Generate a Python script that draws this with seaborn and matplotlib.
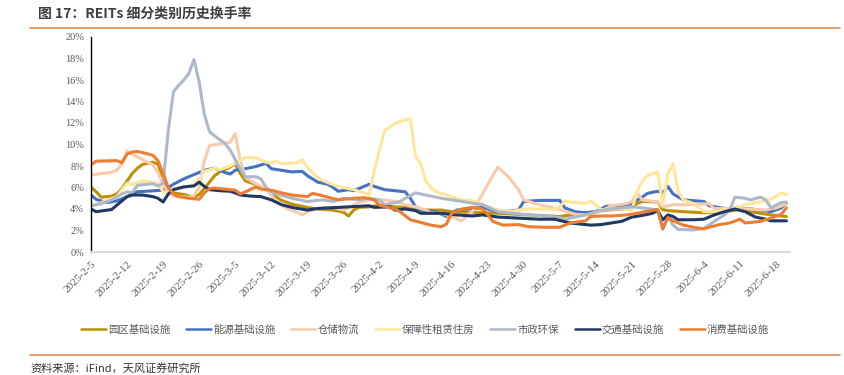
import pandas as pd
import matplotlib.pyplot as plt
import seaborn as sns
from matplotlib.lines import Line2D

# REITs 细分类别历史换手率 (%)
series_names = ['园区基础设施', '能源基础设施', '仓储物流', '保障性租赁住房', '市政环保', '交通基础设施', '消费基础设施']
colors = ['#BF9000', '#4472C4', '#F8CBAD', '#FFE699', '#ADB9CA', '#203864', '#ED7D31']

park_dates = ['2-5', '2-6', '2-7', '2-9', '2-10', '2-11', '2-12', '2-13', '2-14', '2-15', '2-17', '2-18', '2-19', '2-20', '2-21',
              '2-23', '2-25', '2-26', '2-27', '2-28', '3-1', '3-2', '3-4', '3-5', '3-6', '3-7', '3-9', '3-11', '3-12', '3-14',
              '3-16', '3-19', '3-21', '3-24', '3-26', '3-27', '3-28', '3-29', '3-31', '4-2', '4-5', '4-7', '4-9', '4-11', '4-14',
              '4-16', '4-20', '4-25', '5-1', '5-7', '5-13', '5-16', '5-20', '5-22', '5-23', '5-26', '5-27', '5-28', '5-31', '6-4',
              '6-8', '6-11', '6-13', '6-17', '6-20']
park_vals = [6.05, 5.6, 5.1, 5.2, 5.4, 5.9, 6.6, 7.3, 7.8, 8.15, 8.35, 8.2, 6.8, 5.6, 5.5,
             5.35, 5.1, 5.35, 5.9, 6.5, 7.1, 7.45, 7.9, 8.2, 7.3, 6.6, 6.3, 5.85, 5.4, 4.8,
             4.45, 4.15, 4.0, 3.9, 3.7, 3.35, 3.9, 4.15, 4.2, 4.35, 4.2, 4.15, 4.05, 3.9, 3.9,
             3.75, 3.7, 3.6, 3.45, 3.3, 3.7, 3.9, 4.0, 4.5, 4.7, 4.65, 3.95, 3.85, 3.75, 3.65,
             3.75, 3.95, 3.75, 3.45, 3.3]

energy_dates = ['2-5', '2-6', '2-8', '2-10', '2-12', '2-14', '2-19', '2-20', '2-21', '2-23', '2-25', '2-27', '3-1', '3-3', '3-4',
                '3-5', '3-7', '3-9', '3-11', '3-12', '3-14', '3-16', '3-18', '3-19', '3-21', '3-23', '3-24', '3-25', '3-27', '3-28',
                '3-30', '3-31', '4-1', '4-3', '4-5', '4-7', '4-8', '4-9', '4-10', '4-13', '4-15', '4-17', '4-20', '4-22', '4-25',
                '4-29', '4-30', '5-3', '5-7', '5-8', '5-10', '5-12', '5-14', '5-16', '5-20', '5-21', '5-23', '5-24', '5-26', '5-27',
                '5-28', '5-29', '5-31', '6-4', '6-5', '6-8', '6-12', '6-15', '6-17', '6-19', '6-20']
energy_vals = [5.3, 4.9, 4.6, 4.75, 5.15, 5.6, 5.75, 6.0, 6.3, 6.8, 7.2, 7.6, 7.8, 7.4, 7.25,
               7.6, 7.75, 7.95, 8.25, 7.75, 7.6, 7.45, 7.5, 7.1, 6.5, 6.3, 6.0, 5.65, 5.8, 5.7,
               6.1, 6.3, 6.1, 5.8, 5.7, 5.6, 5.0, 4.2, 3.9, 3.75, 3.3, 3.9, 4.05, 4.15, 3.75,
               3.9, 4.7, 4.8, 4.8, 4.1, 3.75, 3.65, 3.75, 4.25, 4.3, 4.55, 5.1, 5.45, 5.65, 5.5,
               6.1, 5.4, 4.85, 4.7, 4.3, 4.05, 4.05, 3.9, 3.75, 4.1, 4.5]

storage_dates = ['2-5', '2-7', '2-9', '2-10', '2-11', '2-12', '2-13', '2-15', '2-17', '2-18', '2-19', '2-20', '2-21', '2-24', '2-25',
                 '2-26', '2-27', '2-28', '3-2', '3-4', '3-5', '3-6', '3-7', '3-9', '3-10', '3-11', '3-12', '3-13', '3-15', '3-17',
                 '3-18', '3-19', '3-21', '3-24', '3-26', '3-29', '3-31', '4-3', '4-5', '4-7', '4-9', '4-11', '4-12', '4-14', '4-16',
                 '4-18', '4-19', '4-20', '4-22', '4-24', '4-25', '4-27', '4-29', '4-30', '5-3', '5-5', '5-8', '5-10', '5-13', '5-15',
                 '5-17', '5-20', '5-21', '5-22', '5-23', '5-26', '5-27', '5-29', '6-1', '6-5', '6-6', '6-11', '6-16', '6-18', '6-20']
storage_vals = [7.15, 7.3, 7.4, 7.6, 8.2, 9.4, 9.1, 8.6, 8.1, 7.4, 6.3, 5.5, 5.2, 5.1, 5.25,
                6.0, 8.5, 9.9, 10.05, 10.2, 11.0, 8.5, 6.9, 6.35, 6.1, 5.9, 5.3, 4.7, 4.05, 3.7,
                3.45, 3.75, 4.05, 4.15, 3.9, 4.6, 4.85, 4.85, 4.7, 4.4, 4.2, 3.9, 3.65, 3.6, 3.3,
                2.9, 3.4, 3.75, 5.4, 7.1, 7.9, 7.0, 5.8, 4.85, 4.4, 4.2, 3.8, 3.5, 3.45, 3.8,
                4.3, 4.5, 4.7, 5.5, 4.85, 4.65, 4.2, 4.4, 4.4, 4.5, 4.05, 4.05, 3.9, 4.1, 4.45]

housing_dates = ['2-5', '2-7', '2-10', '2-11', '2-12', '2-13', '2-15', '2-17', '2-18', '2-19', '2-20', '2-21', '2-23', '2-25', '2-26',
                 '2-27', '3-1', '3-2', '3-4', '3-6', '3-7', '3-9', '3-11', '3-12', '3-13', '3-14', '3-17', '3-18', '3-19', '3-21',
                 '3-23', '3-25', '3-28', '3-30', '3-31', '4-1', '4-2', '4-3', '4-5', '4-7', '4-8', '4-9', '4-10', '4-11', '4-12',
                 '4-13', '4-15', '4-17', '4-18', '4-21', '4-23', '4-25', '4-28', '4-30', '5-6', '5-7', '5-8', '5-10', '5-12', '5-13',
                 '5-14', '5-15', '5-19', '5-21', '5-22', '5-23', '5-24', '5-26', '5-27', '5-28', '5-29', '5-30', '5-31', '6-2', '6-4',
                 '6-6', '6-8', '6-10', '6-13', '6-15', '6-17', '6-19', '6-20']
housing_vals = [4.3, 4.6, 5.15, 5.8, 6.4, 6.3, 6.6, 6.5, 6.35, 5.6, 5.5, 5.9, 6.05, 6.25, 6.8,
                7.5, 7.8, 7.65, 8.0, 8.5, 8.8, 8.75, 8.35, 8.3, 8.45, 8.2, 8.3, 8.6, 7.9, 6.9,
                6.45, 6.1, 5.8, 5.5, 5.3, 7.6, 9.5, 11.3, 11.95, 12.3, 12.4, 8.9, 8.2, 6.6, 6.0,
                5.6, 5.3, 5.0, 4.85, 4.7, 4.2, 3.9, 3.8, 4.0, 4.0, 4.2, 4.75, 4.6, 4.5, 4.75,
                4.4, 3.95, 4.0, 3.9, 5.6, 6.6, 7.1, 7.45, 4.4, 7.3, 8.2, 5.6, 4.85, 4.5, 3.75,
                3.75, 3.9, 4.15, 4.5, 4.65, 4.9, 5.45, 5.35]

municipal_dates = ['2-5', '2-7', '2-9', '2-11', '2-12', '2-13', '2-14', '2-17', '2-18', '2-19', '2-20', '2-21', '2-22', '2-23', '2-24',
                   '2-25', '2-26', '2-27', '2-28', '3-1', '3-3', '3-4', '3-5', '3-6', '3-7', '3-9', '3-10', '3-11', '3-12', '3-13',
                   '3-16', '3-19', '3-22', '3-24', '3-26', '3-29', '3-31', '4-2', '4-3', '4-6', '4-7', '4-9', '4-11', '4-14', '4-16',
                   '4-18', '4-20', '4-22', '4-23', '4-25', '4-28', '5-1', '5-4', '5-7', '5-8', '5-9', '5-12', '5-14', '5-16', '5-18',
                   '5-21', '5-24', '5-26', '5-27', '5-28', '5-29', '5-30', '6-2', '6-4', '6-6', '6-8', '6-9', '6-10', '6-12', '6-13',
                   '6-15', '6-16', '6-17', '6-19', '6-20']
municipal_vals = [4.3, 4.5, 4.85, 5.4, 5.6, 5.5, 6.2, 6.35, 6.15, 6.4, 11.3, 14.9, 15.5, 16.0, 16.6,
                  17.9, 15.8, 12.8, 11.2, 10.8, 10.1, 9.5, 8.6, 7.7, 7.0, 7.0, 6.8, 6.0, 5.6, 5.4,
                  5.0, 4.7, 4.85, 4.7, 5.0, 4.85, 5.0, 4.85, 4.4, 4.7, 5.0, 5.5, 5.3, 5.0, 4.85,
                  4.7, 4.55, 4.4, 4.2, 3.75, 3.6, 3.45, 3.35, 3.2, 3.0, 3.15, 3.45, 3.75, 3.95, 4.05,
                  4.2, 4.05, 3.9, 2.1, 3.3, 2.5, 2.1, 2.05, 2.2, 2.85, 3.45, 3.9, 5.1, 5.0, 4.85,
                  5.1, 4.85, 4.1, 4.6, 4.65]

transport_dates = ['2-5', '2-6', '2-9', '2-10', '2-12', '2-13', '2-15', '2-17', '2-18', '2-19', '2-20', '2-21', '2-23', '2-25', '2-26',
                   '2-27', '2-28', '3-2', '3-4', '3-5', '3-6', '3-8', '3-10', '3-12', '3-14', '3-16', '3-19', '3-21', '3-25', '3-27',
                   '3-31', '4-1', '4-4', '4-5', '4-7', '4-9', '4-10', '4-14', '4-17', '4-20', '4-22', '4-25', '4-29', '5-3', '5-6',
                   '5-9', '5-13', '5-15', '5-17', '5-19', '5-21', '5-23', '5-25', '5-26', '5-27', '5-28', '5-29', '5-30', '6-2', '6-4',
                   '6-6', '6-8', '6-10', '6-12', '6-14', '6-16', '6-17', '6-20']
transport_vals = [4.0, 3.75, 3.95, 4.35, 5.15, 5.3, 5.3, 5.15, 5.0, 4.65, 5.4, 5.8, 6.05, 6.15, 6.5,
                  6.1, 5.8, 5.7, 5.65, 5.5, 5.3, 5.2, 5.15, 4.85, 4.4, 4.15, 3.9, 4.05, 4.15, 4.2,
                  4.3, 4.15, 4.2, 3.9, 4.0, 3.85, 3.6, 3.6, 3.45, 3.35, 3.45, 3.25, 3.15, 3.05, 3.05,
                  2.7, 2.5, 2.55, 2.7, 2.85, 3.25, 3.4, 3.6, 3.85, 3.0, 3.45, 3.3, 3.0, 3.0, 3.05,
                  3.45, 3.75, 4.0, 3.75, 3.25, 3.05, 2.9, 2.9]

consumer_dates = ['2-5', '2-6', '2-10', '2-11', '2-12', '2-13', '2-14', '2-15', '2-17', '2-18', '2-19', '2-20', '2-21', '2-22', '2-24',
                  '2-26', '2-27', '2-28', '3-1', '3-4', '3-5', '3-6', '3-7', '3-9', '3-10', '3-12', '3-14', '3-16', '3-19', '3-20',
                  '3-21', '3-23', '3-25', '3-28', '3-30', '4-1', '4-2', '4-5', '4-6', '4-8', '4-10', '4-12', '4-14', '4-15', '4-16',
                  '4-18', '4-20', '4-22', '4-23', '4-24', '4-26', '4-29', '5-1', '5-4', '5-7', '5-9', '5-12', '5-13', '5-15', '5-17',
                  '5-20', '5-22', '5-24', '5-26', '5-27', '5-28', '5-29', '5-31', '6-2', '6-4', '6-5', '6-7', '6-9', '6-11', '6-12',
                  '6-15', '6-17', '6-19', '6-20']
consumer_vals = [8.1, 8.45, 8.5, 8.3, 9.1, 9.3, 9.35, 9.25, 9.0, 8.5, 7.3, 6.0, 5.4, 5.15, 5.0,
                 4.9, 5.5, 5.9, 5.95, 5.8, 5.75, 5.4, 5.6, 6.05, 5.85, 5.75, 5.5, 5.3, 5.15, 5.45,
                 5.35, 5.1, 4.85, 5.0, 5.05, 4.85, 4.35, 4.0, 3.75, 3.0, 2.75, 2.5, 2.35, 2.6, 3.6,
                 4.0, 4.15, 4.0, 3.5, 2.85, 2.5, 2.55, 2.35, 2.3, 2.3, 2.7, 2.9, 3.3, 3.35, 3.35,
                 3.45, 3.6, 3.8, 3.95, 2.2, 3.2, 2.9, 2.5, 2.3, 2.15, 2.3, 2.55, 2.7, 3.05, 2.7,
                 2.85, 3.15, 3.5, 4.1]

tick_labels = ['2025-2-5', '2025-2-12', '2025-2-19', '2025-2-26', '2025-3-5', '2025-3-12', '2025-3-19',
               '2025-3-26', '2025-4-2', '2025-4-9', '2025-4-16', '2025-4-23', '2025-4-30', '2025-5-7',
               '2025-5-14', '2025-5-21', '2025-5-28', '2025-6-4', '2025-6-11', '2025-6-18']

all_dates = [park_dates, energy_dates, storage_dates, housing_dates, municipal_dates, transport_dates, consumer_dates]
all_vals = [park_vals, energy_vals, storage_vals, housing_vals, municipal_vals, transport_vals, consumer_vals]

frames = []
for name, d, v in zip(series_names, all_dates, all_vals):
    frames.append(pd.DataFrame({'date': pd.to_datetime(['2025-' + s for s in d], format='%Y-%m-%d'),
                                'rate': v, 'name': name}))
df = pd.concat(frames, ignore_index=True)

sns.set_style('white')
plt.rcParams['font.family'] = ['Liberation Serif', 'Noto Sans CJK SC']
cjk = ['Noto Sans CJK SC', 'DejaVu Sans']

fig = plt.figure(figsize=(8.44, 3.75), dpi=100)
ax = fig.add_axes([91 / 844, 1 - 252 / 375, 699 / 844, 215 / 375])
sns.lineplot(data=df, x='date', y='rate', hue='name', hue_order=series_names,
             palette=dict(zip(series_names, colors)), linewidth=2.2, estimator=None,
             legend=False, ax=ax)
for ln in ax.get_lines():
    ln.set_solid_joinstyle('round')
    ln.set_solid_capstyle('round')

start = pd.Timestamp('2025-02-05')
ax.set_xlim(start, start + pd.Timedelta(days=135.7))
ax.set_ylim(0, 20)
ax.set_yticks(range(0, 21, 2))
ax.set_yticklabels([f'{v}%' for v in range(0, 21, 2)])
ax.set_xticks(pd.to_datetime(tick_labels, format='%Y-%m-%d'))
ax.set_xticklabels(tick_labels, rotation=45, ha='right', rotation_mode='anchor')
ax.set_xlabel('')
ax.set_ylabel('')

for s in ['top', 'right']:
    ax.spines[s].set_visible(False)
ax.spines['left'].set_color('#000000')
ax.spines['left'].set_linewidth(1.0)
ax.spines['bottom'].set_color('#D9D9D9')
ax.spines['bottom'].set_linewidth(1.5)
ax.tick_params(axis='y', length=3, width=0.8, color='#000000', labelsize=7.5, labelcolor='#595959', pad=2)
ax.tick_params(axis='x', length=0, labelsize=8, labelcolor='#595959', pad=5)

# legend handles drawn a bit thinner than the plot lines
handles = [Line2D([], [], color=c, lw=1.8) for c in colors]
fig.legend(handles, series_names, loc='center left', bbox_to_anchor=(81 / 844, 1 - 330 / 375), ncol=7,
           frameon=False, prop={'family': cjk, 'size': 7.5}, labelcolor='#595959',
           handlelength=2.4, handletextpad=0.2, columnspacing=1.5, borderpad=0, borderaxespad=0)

fig.text(38 / 844, 1 - 14 / 375, '图 17：REITs 细分类别历史换手率', fontsize=10, fontweight='bold',
         color='#3F3F3F', va='center', family=cjk)
fig.add_artist(Line2D([30 / 844, 840 / 844], [1 - 28 / 375] * 2, color='#E38B4F', lw=1.2))
fig.add_artist(Line2D([30 / 844, 840 / 844], [1 - 355 / 375] * 2, color='#E38B4F', lw=1.2))
fig.text(30 / 844, 1 - 368 / 375, '资料来源：iFind，天风证券研究所', fontsize=8, color='#333333',
         va='center', family=cjk)

fig.savefig('out.png', dpi=100)
